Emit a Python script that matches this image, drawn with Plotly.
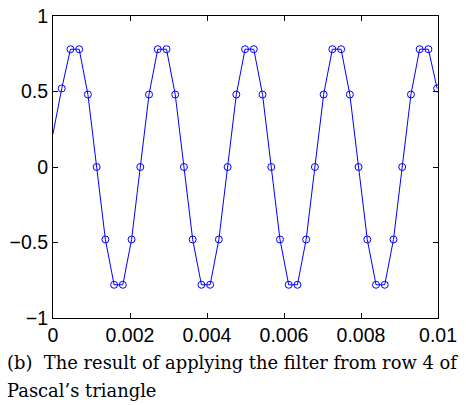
import plotly.graph_objects as go

fs = 4410
n_samples = list(range(45))
t = [n / fs for n in n_samples]
y = [0.22, 0.52, 0.78, 0.78, 0.48, 0.0, -0.48, -0.78, -0.78, -0.48,
     0.0, 0.48, 0.78, 0.78, 0.48, 0.0, -0.48, -0.78, -0.78, -0.48,
     0.0, 0.48, 0.78, 0.78, 0.48, 0.0, -0.48, -0.78, -0.78, -0.48,
     0.0, 0.48, 0.78, 0.78, 0.48, 0.0, -0.48, -0.78, -0.78, -0.48,
     0.0, 0.48, 0.78, 0.78, 0.52]

x_ticks = [0, 0.002, 0.004, 0.006, 0.008, 0.01]
x_tick_labels = ["0", "0.002", "0.004", "0.006", "0.008", "0.01"]
y_ticks = [-1, -0.5, 0, 0.5, 1]
y_tick_labels = ["\u22121", "\u22120.5", "0", "0.5", "1"]

caption_lines = ["(b)  The result of applying the filter from row 4 of",
                 "Pascal\u2019s triangle"]

blue = "rgb(0,0,255)"
fig = go.Figure()
fig.add_trace(go.Scatter(x=t, y=y, mode="lines",
                         line=dict(color=blue, width=1), showlegend=False,
                         hoverinfo="skip"))
fig.add_trace(go.Scatter(x=t[1:], y=y[1:], mode="markers",
                         marker=dict(symbol="circle-open", size=7,
                                     color=blue, line=dict(width=1, color=blue)),
                         showlegend=False))

axis_common = dict(showline=True, linecolor="black", linewidth=1, mirror="ticks",
                   ticks="inside", ticklen=5, tickcolor="black", showgrid=False,
                   zeroline=False, automargin=False, ticklabeloverflow="allow",
                   tickfont=dict(family="Liberation Sans, Arial", size=19.5, color="black"))
fig.update_xaxes(range=[0, 0.01], tickvals=x_ticks, ticktext=x_tick_labels, **axis_common)
fig.update_yaxes(range=[-1, 1], tickvals=y_ticks, ticktext=y_tick_labels, **axis_common)

ys = [-0.1457, -0.2417]
for line, yy in zip(caption_lines, ys):
    fig.add_annotation(text=line, xref="paper", yref="paper", x=-0.1247, y=yy,
                       xanchor="left", yanchor="middle", showarrow=False,
                       font=dict(family="DejaVu Serif", size=17.9, color="black"))

fig.update_layout(width=466, height=405, margin=dict(l=53, r=28, t=16, b=87),
                  paper_bgcolor="white", plot_bgcolor="white")
fig.write_html("out.html", config={"displayModeBar": False},
               post_script="document.body.style.margin='0';")
